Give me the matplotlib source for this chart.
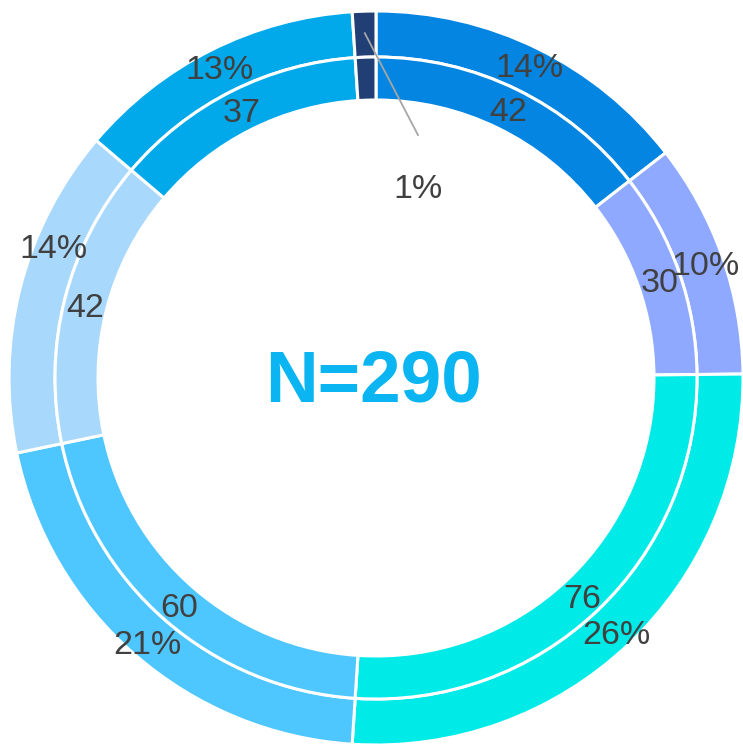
import numpy as np
import matplotlib.pyplot as plt

plt.rcParams["font.family"] = ["Liberation Sans", "DejaVu Sans"]

counts = [42, 30, 76, 60, 42, 37, 3]
colors = ["#0385E1", "#8EA9FF", "#00EAE8", "#4EC6FF", "#A9D8FD", "#01A9EA", "#213F75"]
total_label = "N=290"

total = sum(counts)
pcts = [f"{round(v / total * 100)}%" for v in counts]

fig = plt.figure(figsize=(7.43, 7.45), dpi=100)
ax = fig.add_axes([0, 0, 1, 1])

# ring geometry in pixels, centre at (376, 378) from top-left
R_out, R_mid, R_in = 367, 321, 278
cx, cy = 376, 378
dy = -4  # text baseline nudge

outer, _ = ax.pie(counts, colors=colors, radius=R_out, startangle=90, counterclock=False,
                  wedgeprops=dict(width=R_out - R_mid, edgecolor="white", linewidth=2.2))
inner, _ = ax.pie(counts, colors=colors, radius=R_mid, startangle=90, counterclock=False,
                  wedgeprops=dict(width=R_mid - R_in, edgecolor="white", linewidth=2.2))

def mid_xy(w, r, shift=0.0):
    a = np.deg2rad((w.theta1 + w.theta2) / 2 + shift)
    return r * np.cos(a), r * np.sin(a) + dy

# outer label on the pale slice sits a bit higher so it clears the inner one
outer_shift = {4: -8}

txt = dict(ha="center", va="center", fontsize=24.5, color="#404040")
for i, (wo, wi) in enumerate(zip(outer, inner)):
    if counts[i] < 5:
        # small slice: leader line to label inside the ring
        a = np.deg2rad((wo.theta1 + wo.theta2) / 2)
        ax.plot([345 * np.cos(a), 418 - cx], [345 * np.sin(a), cy - 135],
                color="#A6A6A6", lw=1.3)
        ax.text(418 - cx, cy - 185 + dy, pcts[i], **txt)
        continue
    ax.text(*mid_xy(wo, 349, outer_shift.get(i, 0)), pcts[i], **txt)
    ax.text(*mid_xy(wi, 300), str(counts[i]), **txt)

ax.text(373 - cx, cy - 378 + dy, total_label, ha="center", va="center",
        fontsize=52.5, fontweight="bold", color="#0BB5F2")

ax.set_xlim(-cx, 743 - cx)
ax.set_ylim(-(745 - cy), cy)
ax.set_aspect("equal")
ax.axis("off")

fig.savefig("out.png", dpi=100)
